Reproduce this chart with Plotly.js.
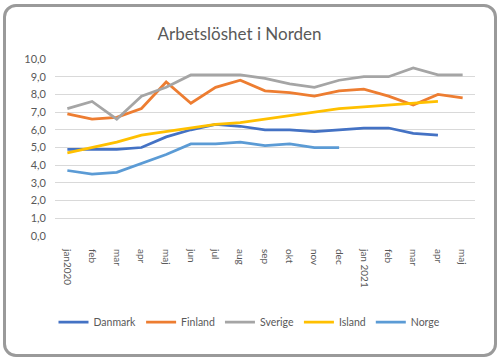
<!DOCTYPE html>
<html>
<head>
<meta charset="utf-8">
<script src="https://cdn.plot.ly/plotly-3.0.1.min.js"></script>
<style>
  html, body { margin: 0; padding: 0; background: #fff; }
  #wrap { position: relative; width: 499px; height: 360px; }
  #chart { position: absolute; left: 0; top: 0; width: 499px; height: 360px; }
  #frame { position: absolute; left: 3px; top: 4px; width: 488px; height: 347px;
           border: 3px solid #9a9a9a; border-radius: 13px; pointer-events: none; }
</style>
</head>
<body>
<div id="wrap">
  <div id="chart"></div>
  <div id="frame"></div>
</div>
<script>
const monthLabels = ["jan2020","feb","mar","apr","maj","jun","jul","aug","sep","okt","nov","dec","jan 2021","feb","mar","apr","maj"];
const danmark = [4.9, 4.9, 4.9, 5.0, 5.6, 6.0, 6.3, 6.2, 6.0, 6.0, 5.9, 6.0, 6.1, 6.1, 5.8, 5.7, null];
const finland = [6.9, 6.6, 6.7, 7.2, 8.7, 7.5, 8.4, 8.8, 8.2, 8.1, 7.9, 8.2, 8.3, 7.9, 7.4, 8.0, 7.8];
const sverige = [7.2, 7.6, 6.6, 7.9, 8.4, 9.1, 9.1, 9.1, 8.9, 8.6, 8.4, 8.8, 9.0, 9.0, 9.5, 9.1, 9.1];
const island  = [4.7, 5.0, 5.3, 5.7, 5.9, 6.1, 6.3, 6.4, 6.6, 6.8, 7.0, 7.2, 7.3, 7.4, 7.5, 7.6, null];
const norge   = [3.7, 3.5, 3.6, 4.1, 4.6, 5.2, 5.2, 5.3, 5.1, 5.2, 5.0, 5.0, null, null, null, null, null];

const seriesNames = ["Danmark", "Finland", "Sverige", "Island", "Norge"];
const seriesValues = [danmark, finland, sverige, island, norge];
const seriesColors = ["#4472C4", "#ED7D31", "#A5A5A5", "#FFC000", "#5B9BD5"];

const xIdx = monthLabels.map((_, i) => i);
const FONT = "Lato, 'Noto Sans', sans-serif";

const traces = seriesNames.map((name, k) => ({
  type: "scatter",
  mode: "lines",
  name: name,
  x: xIdx,
  y: seriesValues[k],
  line: { color: seriesColors[k], width: 2.75 },
  connectgaps: false
}));

const layout = {
  width: 499,
  height: 360,
  margin: { l: 55, r: 24, t: 59, b: 124 },
  paper_bgcolor: "#ffffff",
  plot_bgcolor: "#ffffff",
  separators: ", ",
  title: {
    text: "Arbetslöshet i Norden",
    font: { family: FONT, size: 17, color: "#595959" },
    x: 0.48, xanchor: "center", xref: "container",
    y: 0.905, yanchor: "middle", yref: "container"
  },
  xaxis: {
    range: [-0.5, 16.5],
    tickmode: "array",
    tickvals: xIdx,
    ticktext: monthLabels,
    tickangle: 90,
    showgrid: false,
    zeroline: false,
    showline: false,
    ticks: "",
    ticklabelstandoff: 12,
    tickfont: { family: FONT, size: 10, color: "#595959" },
    fixedrange: true
  },
  yaxis: {
    range: [0, 10],
    dtick: 1,
    tick0: 0,
    tickformat: ".1f",
    showgrid: true,
    gridcolor: "#d9d9d9",
    gridwidth: 1,
    zeroline: false,
    showline: false,
    ticks: "",
    ticklabelstandoff: 8,
    tickfont: { family: FONT, size: 11, color: "#595959" },
    fixedrange: true
  },
  showlegend: true,
  legend: {
    orientation: "h",
    xref: "container", x: 0.5, xanchor: "center",
    yref: "container", y: 0.105, yanchor: "middle",
    font: { family: FONT, size: 10.5, color: "#595959" },
    itemwidth: 30,
    tracegroupgap: 0,
    bgcolor: "rgba(0,0,0,0)"
  }
};

Plotly.newPlot("chart", traces, layout, { displayModeBar: false, staticPlot: true });
</script>
</body>
</html>
